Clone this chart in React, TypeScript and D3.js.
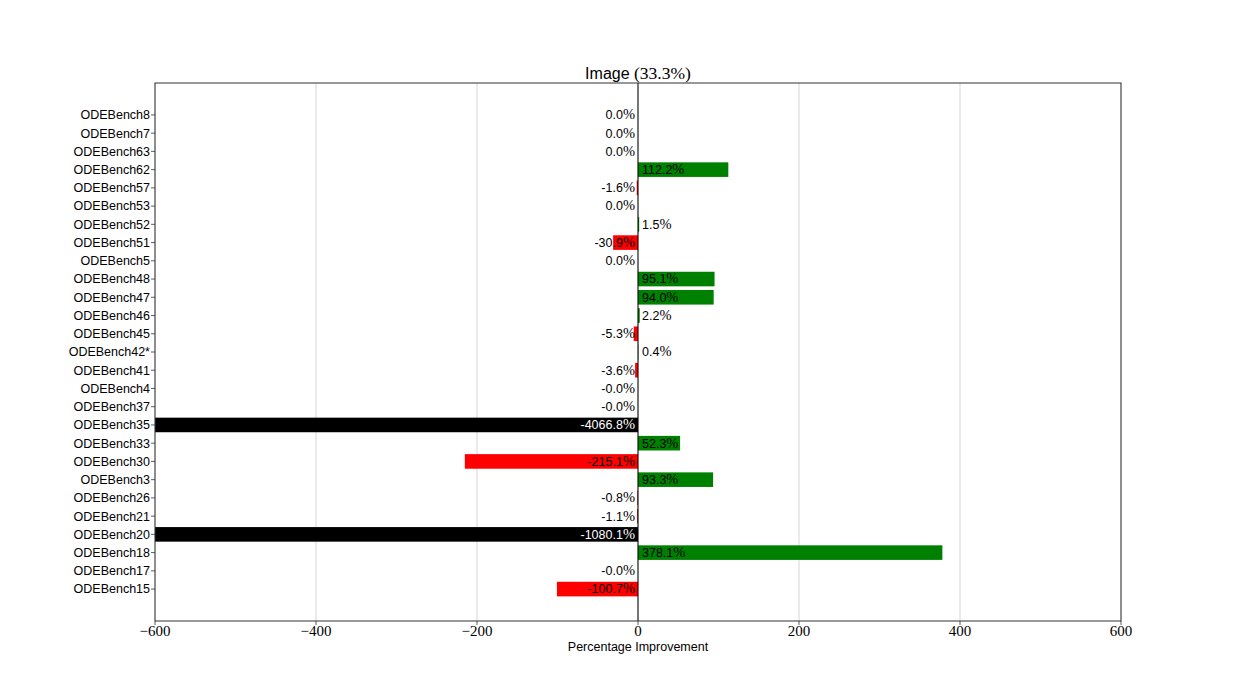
import React from "react";
import * as d3 from "d3";

const categories = [
  "ODEBench8", "ODEBench7", "ODEBench63", "ODEBench62", "ODEBench57", "ODEBench53",
  "ODEBench52", "ODEBench51", "ODEBench5", "ODEBench48", "ODEBench47", "ODEBench46",
  "ODEBench45", "ODEBench42*", "ODEBench41", "ODEBench4", "ODEBench37", "ODEBench35",
  "ODEBench33", "ODEBench30", "ODEBench3", "ODEBench26", "ODEBench21", "ODEBench20",
  "ODEBench18", "ODEBench17", "ODEBench15",
];
const values = [
  0.0, 0.0, 0.0, 112.2, -1.6, 0.0,
  1.5, -30.9, 0.0, 95.1, 94.0, 2.2,
  -5.3, 0.4, -3.6, -0.01, -0.01, -4066.8,
  52.3, -215.1, 93.3, -0.8, -1.1, -1080.1,
  378.1, -0.01, -100.7,
];
const xTicks = [-600, -400, -200, 0, 200, 400, 600];
const title = "Image";
const titleNote = "(33.3%)";
const xLabel = "Percentage Improvement";

const W = 1246, H = 698;
const left = 155, right = 1121, top = 83, bottom = 621;
const SANS = "'Liberation Sans', Arial, sans-serif";
const SERIF = "'Liberation Serif', serif";

export default function App() {
  const x = d3.scaleLinear().domain([-600, 600]).range([left, right]);
  const n = categories.length;
  const y = d3.scaleLinear().domain([-1.75, n - 1 + 1.75]).range([top, bottom]);
  const barH = (y(1) - y(0)) * 0.8;
  const x0 = x(0);

  const fmt = (v: number) => v.toFixed(1);

  return (
    <svg width={W} height={H} style={{ position: "absolute", left: 0, top: 0, background: "#fff" }}>
      {xTicks.map((t) => (
        <line key={"g" + t} x1={x(t)} x2={x(t)} y1={top} y2={bottom} stroke="#d0d0d0" strokeWidth={0.9} />
      ))}
      {values.map((v, i) => {
        const over = v < -600 || v > 600;
        const vc = Math.max(-600, Math.min(600, v));
        const color = over ? "#000000" : v >= 0 ? "#008000" : "#ff0000";
        const xa = Math.min(x(0), x(vc));
        const w = Math.abs(x(vc) - x(0));
        return (
          <rect key={"b" + i} x={xa} y={y(i) - barH / 2} width={w} height={barH} fill={color} />
        );
      })}
      <line x1={x0} x2={x0} y1={top} y2={bottom} stroke="#000" strokeWidth={1} />
      {values.map((v, i) => {
        const over = v < -600 || v > 600;
        const pos = v > 0;
        const s = fmt(v);
        return (
          <text
            key={"l" + i}
            x={pos ? x0 + 4 : x0 - 3}
            y={y(i)}
            dy="0.35em"
            textAnchor={pos ? "start" : "end"}
            fontFamily={SANS}
            fontSize={12.5}
            fill={over ? "#fff" : "#000"}
          >
            {s}
            <tspan fontFamily={SERIF} fontSize={14.5}>%</tspan>
          </text>
        );
      })}
      <rect x={left} y={top} width={right - left} height={bottom - top} fill="none" stroke="#333" strokeWidth={1} />
      {categories.map((c, i) => (
        <g key={"y" + i}>
          <line x1={left - 4} x2={left} y1={y(i)} y2={y(i)} stroke="#333" strokeWidth={0.8} />
          <text x={left - 5} y={y(i)} dy="0.35em" textAnchor="end" fontFamily={SANS} fontSize={12.5} fill="#000">
            {c}
          </text>
        </g>
      ))}
      {xTicks.map((t) => (
        <g key={"x" + t}>
          <line x1={x(t)} x2={x(t)} y1={bottom} y2={bottom + 4} stroke="#333" strokeWidth={0.8} />
          <text x={x(t)} y={bottom + 15} textAnchor="middle" fontFamily={SERIF} fontSize={15} fill="#000">
            {t < 0 ? "\u2212" + Math.abs(t) : String(t)}
          </text>
        </g>
      ))}
      <text x={(left + right) / 2} y={651} textAnchor="middle" fontFamily={SANS} fontSize={12.5} fill="#000">
        {xLabel}
      </text>
      <text x={(left + right) / 2} y={79} textAnchor="middle" fontFamily={SANS} fontSize={16} fill="#000">
        {title}{" "}
        <tspan fontFamily={SERIF} fontSize={17.5}>{titleNote}</tspan>
      </text>
    </svg>
  );
}
